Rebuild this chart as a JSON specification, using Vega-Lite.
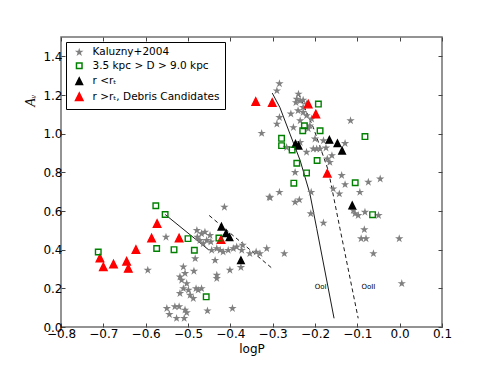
{
  "$schema": "https://vega.github.io/schema/vega-lite/v6.json",
  "width": 381,
  "height": 290,
  "autosize": {"type": "none"},
  "padding": {"left": 61, "top": 37, "right": 49, "bottom": 38},
  "config": {
    "font": "DejaVu Sans",
    "view": {"stroke": "#707070", "strokeWidth": 1.5},
    "axis": {"grid": false, "domain": false, "labelFontSize": 12, "labelColor": "black", "titleColor": "black", "titleFontWeight": "normal", "tickColor": "#444", "tickSize": -4, "tickWidth": 1, "labelFlush": false, "labelOverlap": false},
    "legend": {"orient": "top-left", "offset": 5, "padding": 5, "strokeColor": "black", "fillColor": "white", "labelFontSize": 10.5, "labelFont": "DejaVu Sans", "rowPadding": 1.5, "labelOffset": 8, "symbolOffset": 3, "symbolStrokeWidth": 1.5, "labelLimit": 300}
  },
  "datasets": {
    "pts": [
      {"x": -0.552, "y": 0.465, "s": "a"}, {"x": -0.595, "y": 0.294, "s": "a"}, {"x": -0.414, "y": 0.620, "s": "a"}, {"x": -0.306, "y": 0.669, "s": "a"},
      {"x": -0.479, "y": 0.500, "s": "a"}, {"x": -0.468, "y": 0.483, "s": "a"}, {"x": -0.460, "y": 0.491, "s": "a"}, {"x": -0.448, "y": 0.474, "s": "a"},
      {"x": -0.478, "y": 0.465, "s": "a"}, {"x": -0.446, "y": 0.440, "s": "a"}, {"x": -0.464, "y": 0.431, "s": "a"}, {"x": -0.444, "y": 0.397, "s": "a"},
      {"x": -0.432, "y": 0.406, "s": "a"}, {"x": -0.424, "y": 0.397, "s": "a"}, {"x": -0.436, "y": 0.345, "s": "a"}, {"x": -0.405, "y": 0.397, "s": "a"},
      {"x": -0.393, "y": 0.406, "s": "a"}, {"x": -0.385, "y": 0.414, "s": "a"}, {"x": -0.373, "y": 0.397, "s": "a"}, {"x": -0.354, "y": 0.380, "s": "a"},
      {"x": -0.339, "y": 0.388, "s": "a"}, {"x": -0.330, "y": 0.380, "s": "a"}, {"x": -0.314, "y": 0.406, "s": "a"}, {"x": -0.401, "y": 0.294, "s": "a"},
      {"x": -0.375, "y": 0.308, "s": "a"}, {"x": -0.483, "y": 0.354, "s": "a"}, {"x": -0.511, "y": 0.311, "s": "a"}, {"x": -0.507, "y": 0.277, "s": "a"},
      {"x": -0.519, "y": 0.259, "s": "a"}, {"x": -0.515, "y": 0.242, "s": "a"}, {"x": -0.503, "y": 0.225, "s": "a"}, {"x": -0.511, "y": 0.199, "s": "a"},
      {"x": -0.481, "y": 0.199, "s": "a"}, {"x": -0.468, "y": 0.199, "s": "a"}, {"x": -0.519, "y": 0.174, "s": "a"}, {"x": -0.495, "y": 0.165, "s": "a"},
      {"x": -0.4875, "y": 0.148, "s": "a"}, {"x": -0.486, "y": 0.289, "s": "a"}, {"x": -0.432, "y": 0.268, "s": "a"}, {"x": -0.432, "y": 0.251, "s": "a"},
      {"x": -0.531, "y": 0.105, "s": "a"}, {"x": -0.507, "y": 0.088, "s": "a"}, {"x": -0.550, "y": 0.096, "s": "a"}, {"x": -0.544, "y": 0.065, "s": "a"},
      {"x": -0.521, "y": 0.105, "s": "a"}, {"x": -0.527, "y": 0.045, "s": "a"}, {"x": -0.509, "y": 0.045, "s": "a"}, {"x": -0.503, "y": 0.074, "s": "a"},
      {"x": -0.454, "y": 0.084, "s": "a"}, {"x": -0.395, "y": 0.096, "s": "a"}, {"x": -0.2725, "y": 0.380, "s": "a"}, {"x": -0.371, "y": 0.423, "s": "a"},
      {"x": -0.472, "y": 0.448, "s": "a"}, {"x": -0.456, "y": 0.448, "s": "a"}, {"x": -0.417, "y": 0.388, "s": "a"}, {"x": -0.499, "y": 0.191, "s": "a"},
      {"x": -0.476, "y": 0.191, "s": "a"},
      {"x": -0.284, "y": 1.259, "s": "a"}, {"x": -0.290, "y": 1.222, "s": "a"}, {"x": -0.239, "y": 1.205, "s": "a"}, {"x": -0.243, "y": 1.179, "s": "a"},
      {"x": -0.245, "y": 1.161, "s": "a"}, {"x": -0.235, "y": 1.170, "s": "a"}, {"x": -0.228, "y": 1.174, "s": "a"}, {"x": -0.220, "y": 1.153, "s": "a"},
      {"x": -0.228, "y": 1.136, "s": "a"}, {"x": -0.257, "y": 1.102, "s": "a"}, {"x": -0.228, "y": 1.110, "s": "a"}, {"x": -0.220, "y": 1.093, "s": "a"},
      {"x": -0.208, "y": 1.076, "s": "a"}, {"x": -0.290, "y": 1.050, "s": "a"}, {"x": -0.284, "y": 1.084, "s": "a"}, {"x": -0.326, "y": 1.002, "s": "a"},
      {"x": -0.251, "y": 1.032, "s": "a"}, {"x": -0.212, "y": 1.041, "s": "a"}, {"x": -0.200, "y": 0.973, "s": "a"}, {"x": -0.180, "y": 0.964, "s": "a"},
      {"x": -0.174, "y": 0.926, "s": "a"}, {"x": -0.129, "y": 0.950, "s": "a"}, {"x": -0.116, "y": 1.067, "s": "a"}, {"x": -0.196, "y": 0.921, "s": "a"},
      {"x": -0.220, "y": 0.904, "s": "a"}, {"x": -0.267, "y": 0.929, "s": "a"}, {"x": -0.235, "y": 0.955, "s": "a"}, {"x": -0.171, "y": 0.870, "s": "a"},
      {"x": -0.160, "y": 0.887, "s": "a"}, {"x": -0.165, "y": 0.852, "s": "a"}, {"x": -0.137, "y": 0.784, "s": "a"}, {"x": -0.129, "y": 0.737, "s": "a"},
      {"x": -0.157, "y": 0.715, "s": "a"}, {"x": -0.1425, "y": 0.689, "s": "a"}, {"x": -0.094, "y": 0.697, "s": "a"}, {"x": -0.074, "y": 0.749, "s": "a"},
      {"x": -0.046, "y": 0.766, "s": "a"}, {"x": -0.284, "y": 0.697, "s": "a"}, {"x": -0.308, "y": 0.672, "s": "a"}, {"x": -0.247, "y": 0.646, "s": "a"},
      {"x": -0.237, "y": 0.658, "s": "a"}, {"x": -0.209, "y": 0.697, "s": "a"}, {"x": -0.210, "y": 0.586, "s": "a"}, {"x": -0.180, "y": 0.538, "s": "a"},
      {"x": -0.1055, "y": 0.586, "s": "a"}, {"x": -0.098, "y": 0.577, "s": "a"}, {"x": -0.082, "y": 0.594, "s": "a"}, {"x": -0.050, "y": 0.577, "s": "a"},
      {"x": -0.0835, "y": 0.504, "s": "a"}, {"x": -0.091, "y": 0.457, "s": "a"}, {"x": -0.0795, "y": 0.457, "s": "a"}, {"x": -0.001, "y": 0.457, "s": "a"},
      {"x": -0.062, "y": 0.380, "s": "a"}, {"x": 0.005, "y": 0.225, "s": "a"}, {"x": -0.247, "y": 0.800, "s": "a"}, {"x": -0.204, "y": 0.921, "s": "a"},
      {"x": -0.188, "y": 0.921, "s": "a"}, {"x": -0.1095, "y": 0.603, "s": "a"}, {"x": -0.240, "y": 1.119, "s": "a"}, {"x": -0.235, "y": 1.067, "s": "a"},
      {"x": -0.216, "y": 1.026, "s": "a"},
      {"x": -0.708, "y": 0.357, "s": "d"}, {"x": -0.700, "y": 0.311, "s": "d"}, {"x": -0.676, "y": 0.325, "s": "d"}, {"x": -0.645, "y": 0.340, "s": "d"},
      {"x": -0.641, "y": 0.303, "s": "d"}, {"x": -0.623, "y": 0.400, "s": "d"}, {"x": -0.586, "y": 0.460, "s": "d"}, {"x": -0.573, "y": 0.535, "s": "d"},
      {"x": -0.521, "y": 0.460, "s": "d"}, {"x": -0.422, "y": 0.452, "s": "d"}, {"x": -0.340, "y": 1.166, "s": "d"}, {"x": -0.301, "y": 1.161, "s": "d"},
      {"x": -0.216, "y": 1.153, "s": "d"}, {"x": -0.198, "y": 1.102, "s": "d"}, {"x": -0.171, "y": 0.795, "s": "d"},
      {"x": -0.421, "y": 0.519, "s": "c"}, {"x": -0.410, "y": 0.485, "s": "c"}, {"x": -0.402, "y": 0.464, "s": "c"}, {"x": -0.375, "y": 0.345, "s": "c"},
      {"x": -0.246, "y": 0.947, "s": "c"}, {"x": -0.239, "y": 0.938, "s": "c"}, {"x": -0.166, "y": 0.968, "s": "c"}, {"x": -0.147, "y": 0.950, "s": "c"},
      {"x": -0.136, "y": 0.912, "s": "c"}, {"x": -0.112, "y": 0.629, "s": "c"},
      {"x": -0.712, "y": 0.388, "s": "b"}, {"x": -0.576, "y": 0.627, "s": "b"}, {"x": -0.554, "y": 0.582, "s": "b"}, {"x": -0.574, "y": 0.406, "s": "b"},
      {"x": -0.533, "y": 0.400, "s": "b"}, {"x": -0.500, "y": 0.457, "s": "b"}, {"x": -0.485, "y": 0.397, "s": "b"}, {"x": -0.427, "y": 0.460, "s": "b"},
      {"x": -0.457, "y": 0.156, "s": "b"}, {"x": -0.192, "y": 1.153, "s": "b"}, {"x": -0.225, "y": 1.041, "s": "b"}, {"x": -0.229, "y": 1.015, "s": "b"},
      {"x": -0.188, "y": 1.015, "s": "b"}, {"x": -0.279, "y": 0.976, "s": "b"}, {"x": -0.279, "y": 0.938, "s": "b"}, {"x": -0.254, "y": 0.916, "s": "b"},
      {"x": -0.082, "y": 0.985, "s": "b"}, {"x": -0.243, "y": 0.847, "s": "b"}, {"x": -0.220, "y": 0.797, "s": "b"}, {"x": -0.195, "y": 0.861, "s": "b"},
      {"x": -0.250, "y": 0.744, "s": "b"}, {"x": -0.105, "y": 0.746, "s": "b"}, {"x": -0.064, "y": 0.581, "s": "b"}
    ],
    "lines": [
      {"id": 1, "d": 0, "o": 0, "x": -0.554, "y": 0.582}, {"id": 1, "d": 0, "o": 1, "x": -0.450, "y": 0.397},
      {"id": 2, "d": 1, "o": 0, "x": -0.450, "y": 0.577}, {"id": 2, "d": 1, "o": 1, "x": -0.301, "y": 0.303},
      {"id": 3, "d": 0, "o": 0, "x": -0.301, "y": 1.210}, {"id": 3, "d": 0, "o": 1, "x": -0.283, "y": 1.136}, {"id": 3, "d": 0, "o": 2, "x": -0.259, "y": 0.998},
      {"id": 3, "d": 0, "o": 3, "x": -0.235, "y": 0.861}, {"id": 3, "d": 0, "o": 4, "x": -0.212, "y": 0.689}, {"id": 3, "d": 0, "o": 5, "x": -0.196, "y": 0.510},
      {"id": 3, "d": 0, "o": 6, "x": -0.155, "y": 0.045},
      {"id": 4, "d": 1, "o": 0, "x": -0.239, "y": 1.208}, {"id": 4, "d": 1, "o": 1, "x": -0.204, "y": 1.032}, {"id": 4, "d": 1, "o": 2, "x": -0.1685, "y": 0.809},
      {"id": 4, "d": 1, "o": 3, "x": -0.141, "y": 0.509}, {"id": 4, "d": 1, "o": 4, "x": -0.098, "y": 0.045}
    ],
    "labels": [
      {"x": -0.1865, "y": 0.208, "t": "OoI"},
      {"x": -0.074, "y": 0.208, "t": "OoII"}
    ]
  },
  "layer": [
    {
      "data": {"name": "lines"},
      "transform": [{"filter": "datum.d == 0"}],
      "mark": {"type": "line", "color": "black", "strokeWidth": 0.9},
      "encoding": {
        "x": {"field": "x", "type": "quantitative", "scale": {"domain": [-0.8, 0.1], "nice": false, "zero": false}, "axis": null},
        "y": {"field": "y", "type": "quantitative", "scale": {"domain": [0, 1.5], "nice": false, "zero": false}, "axis": null},
        "detail": {"field": "id"},
        "order": {"field": "o", "type": "quantitative"}
      }
    },
    {
      "data": {"name": "lines"},
      "transform": [{"filter": "datum.d == 1"}],
      "mark": {"type": "line", "color": "black", "strokeWidth": 0.9, "strokeDash": [4, 3]},
      "encoding": {
        "x": {"field": "x", "type": "quantitative", "scale": {"domain": [-0.8, 0.1], "nice": false, "zero": false}, "axis": null},
        "y": {"field": "y", "type": "quantitative", "scale": {"domain": [0, 1.5], "nice": false, "zero": false}, "axis": null},
        "detail": {"field": "id"},
        "order": {"field": "o", "type": "quantitative"}
      }
    },
    {
      "data": {"name": "pts"},
      "mark": {"type": "point", "strokeWidth": 1.4, "opacity": 1},
      "encoding": {
        "x": {"field": "x", "type": "quantitative", "scale": {"domain": [-0.8, 0.1], "nice": false, "zero": false},
              "axis": {"orient": "bottom", "values": [-0.8, -0.7, -0.6, -0.5, -0.4, -0.3, -0.2, -0.1, 0.0, 0.1], "format": ".1f", "title": "logP", "titleFontSize": 12, "labelPadding": 5, "titlePadding": 4}},
        "y": {"field": "y", "type": "quantitative", "scale": {"domain": [0, 1.5], "nice": false, "zero": false},
              "axis": {"orient": "left", "values": [0, 0.2, 0.4, 0.6, 0.8, 1.0, 1.2, 1.4], "format": ".1f", "title": "Aᵥ", "titleFont": "Liberation Serif", "titleFontStyle": "italic", "titleFontSize": 14, "titleX": -24, "titleY": 63, "labelPadding": 3}},
        "shape": {"field": "s", "type": "nominal", "title": null,
                  "scale": {"domain": ["a", "b", "c", "d"], "range": ["M0,-1L0.225,-0.309L0.951,-0.309L0.363,0.118L0.588,0.809L0,0.382L-0.588,0.809L-0.363,0.118L-0.951,-0.309L-0.225,-0.309Z", "square", "M0,-1L-1,1L1,1Z", "M0,-1L-1,1L1,1Z"]},
                  "legend": {"labelExpr": "datum.label == 'a' ? 'Kaluzny+2004' : datum.label == 'b' ? '3.5 kpc > D > 9.0 kpc' : datum.label == 'c' ? 'r <rₜ' : 'r >rₜ, Debris Candidates'"}},
        "fill": {"field": "s", "type": "nominal", "title": null,
                 "scale": {"domain": ["a", "b", "c", "d"], "range": ["#808080", "transparent", "black", "#ff0000"]},
                 "legend": {"labelExpr": "datum.label == 'a' ? 'Kaluzny+2004' : datum.label == 'b' ? '3.5 kpc > D > 9.0 kpc' : datum.label == 'c' ? 'r <rₜ' : 'r >rₜ, Debris Candidates'"}},
        "stroke": {"field": "s", "type": "nominal", "title": null,
                   "scale": {"domain": ["a", "b", "c", "d"], "range": ["#808080", "#008000", "black", "#ff0000"]},
                   "legend": {"labelExpr": "datum.label == 'a' ? 'Kaluzny+2004' : datum.label == 'b' ? '3.5 kpc > D > 9.0 kpc' : datum.label == 'c' ? 'r <rₜ' : 'r >rₜ, Debris Candidates'"}},
        "size": {"field": "s", "type": "nominal", "title": null,
                 "scale": {"domain": ["a", "b", "c", "d"], "range": [18, 56, 80, 80]},
                 "legend": {"labelExpr": "datum.label == 'a' ? 'Kaluzny+2004' : datum.label == 'b' ? '3.5 kpc > D > 9.0 kpc' : datum.label == 'c' ? 'r <rₜ' : 'r >rₜ, Debris Candidates'"}}
      }
    },
    {
      "data": {"name": "labels"},
      "mark": {"type": "text", "fontSize": 7, "fill": "#000000", "font": "DejaVu Sans"},
      "encoding": {
        "x": {"field": "x", "type": "quantitative", "scale": {"domain": [-0.8, 0.1], "nice": false, "zero": false},
              "axis": {"orient": "top", "values": [-0.8, -0.7, -0.6, -0.5, -0.4, -0.3, -0.2, -0.1, 0.0, 0.1], "labels": false, "title": null}},
        "y": {"field": "y", "type": "quantitative", "scale": {"domain": [0, 1.5], "nice": false, "zero": false},
              "axis": {"orient": "right", "values": [0, 0.2, 0.4, 0.6, 0.8, 1.0, 1.2, 1.4], "labels": false, "title": null}},
        "text": {"field": "t"}
      }
    }
  ],
  "resolve": {"axis": {"x": "independent", "y": "independent"}}
}
